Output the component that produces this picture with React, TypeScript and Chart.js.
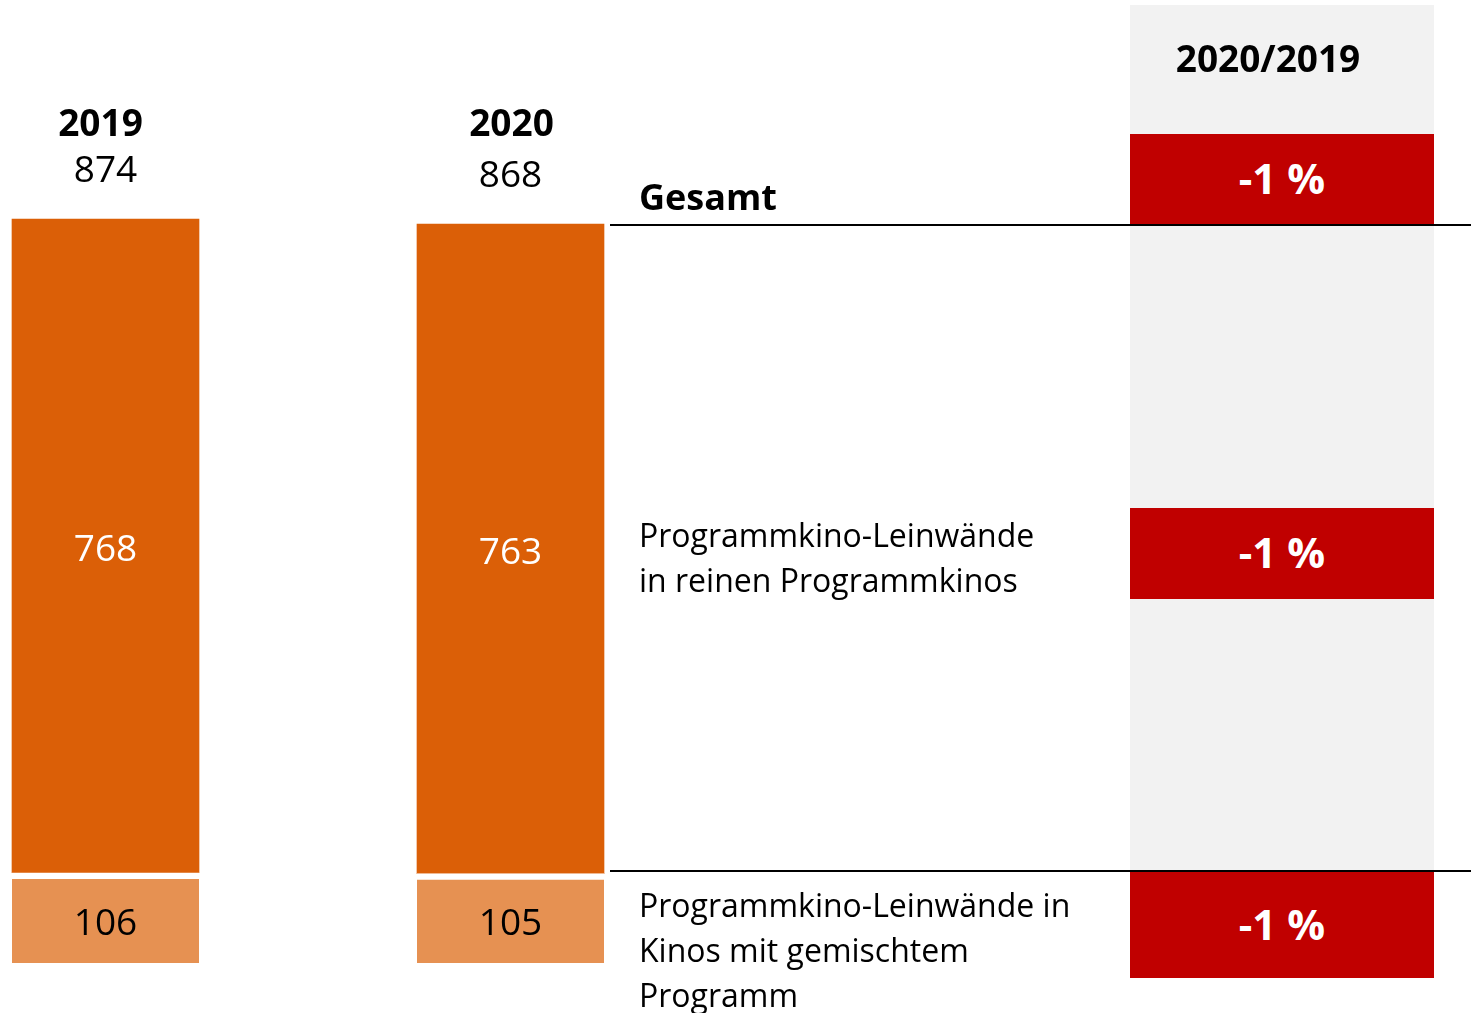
import React, { useEffect, useRef } from "react";
import { Chart, registerables } from "chart.js";

Chart.register(...registerables);

// ---- data ----
const years = ["2019", "2020"];
const mixedScreens = [106, 105]; // Programmkino-Leinwände in Kinos mit gemischtem Programm
const pureScreens = [768, 763]; // Programmkino-Leinwände in reinen Programmkinos
const totals = [874, 868];
const changeHeader = "2020/2019";
const rowLabels = [
  ["Gesamt"],
  ["Programmkino-Leinwände", "in reinen Programmkinos"],
  ["Programmkino-Leinwände in", "Kinos mit gemischtem", "Programm"],
];
const changes = ["-1 %", "-1 %", "-1 %"];

const DARK = "#DB5F07";
const LIGHT = "#E69152";
const RED = "#C00000";
const GRAY = "#F2F2F2";
const FONT = "'Open Sans', 'Noto Sans', sans-serif";
const GAP = 6.5;

const labelPlugin = {
  id: "barLabels",
  afterDatasetsDraw(chart: any) {
    const ctx = chart.ctx;
    ctx.save();
    ctx.textAlign = "center";
    ctx.textBaseline = "middle";
    chart.data.datasets.forEach((ds: any, di: number) => {
      const meta = chart.getDatasetMeta(di);
      meta.data.forEach((el: any, i: number) => {
        const top = di === 0 ? el.y + GAP : el.y;
        const cy = (top + el.base) / 2;
        ctx.fillStyle = di === 0 ? "#000" : "#fff";
        ctx.font = `37px ${FONT}`;
        ctx.fillText(String(ds.data[i]), el.x, cy + (di === 0 ? 3 : 5));
      });
    });
    // header labels: year and total above each bar
    const topMeta = chart.getDatasetMeta(1);
    topMeta.data.forEach((el: any, i: number) => {
      ctx.fillStyle = "#000";
      ctx.font = `bold 37px ${FONT}`;
      ctx.fillText(years[i], el.x - (i === 0 ? 5 : -1), chart.chartArea.top - 94);
      ctx.font = `37px ${FONT}`;
      ctx.fillText(String(totals[i]), el.x, el.y - 48);
    });
    ctx.restore();
  },
};

export default function App() {
  const ref = useRef<HTMLCanvasElement>(null);
  useEffect(() => {
    if (!ref.current) return;
    const chart = new Chart(ref.current, {
      type: "bar",
      data: {
        labels: years,
        datasets: [
          {
            label: "Programmkino-Leinwände in Kinos mit gemischtem Programm",
            data: mixedScreens,
            backgroundColor: LIGHT,
            borderColor: "#ffffff",
            borderWidth: { top: GAP, right: 0, bottom: 0, left: 0 },
            borderSkipped: false,
            barThickness: 187,
            clip: false as any,
          },
          {
            label: "Programmkino-Leinwände in reinen Programmkinos",
            data: pureScreens,
            backgroundColor: DARK,
            borderWidth: 0,
            barThickness: 187,
            clip: false as any,
          },
        ],
      },
      options: {
        responsive: false,
        animation: false,
        layout: { padding: { left: 105.5, right: 1471 - 510.5, top: 219, bottom: 1013 - 963 } },
        plugins: { legend: { display: false }, tooltip: { enabled: false } },
        scales: {
          x: { display: false, stacked: true, offset: false },
          y: { display: false, stacked: true, min: 0, max: 874 },
        },
      },
      plugins: [labelPlugin],
    });
    return () => chart.destroy();
  }, []);

  const abs = (s: React.CSSProperties): React.CSSProperties => ({ position: "absolute", ...s });
  const boxes = [
    { top: 134, height: 90 },
    { top: 508, height: 91 },
    { top: 872, height: 106 },
  ];
  const textTops = [177, 512, 882];

  return (
    <div style={abs({ left: 0, top: 0, width: 1471, height: 1013, background: "#fff", overflow: "hidden", fontFamily: FONT })}>
      <div style={abs({ left: 1130, top: 5, width: 304, height: 866, background: GRAY })} />
      <canvas ref={ref} width={1471} height={1013} style={abs({ left: 0, top: 0 })} />
      <div style={abs({ left: 610, top: 224, width: 861, height: 2, background: "#000" })} />
      <div style={abs({ left: 610, top: 870, width: 861, height: 2, background: "#000" })} />
      <div style={abs({ left: 1130, top: 38, width: 304, textAlign: "center", fontSize: 37, fontWeight: 700, lineHeight: "40px", color: "#000" })}>
        <span style={{ position: "relative", left: -14 }}>{changeHeader}</span>
      </div>
      {boxes.map((b, i) => (
        <div key={i} style={abs({ left: 1130, top: b.top, width: 304, height: b.height, background: RED, color: "#fff", fontWeight: 700, fontSize: 42, display: "flex", alignItems: "center", justifyContent: "center" })}>
          <span style={{ position: "relative", top: -2 }}>{changes[i]}</span>
        </div>
      ))}
      {rowLabels.map((lines, i) => (
        <div key={i} style={abs({ left: 639, top: textTops[i], fontSize: i === 0 ? 36 : 32, fontWeight: i === 0 ? 700 : 400, lineHeight: i === 0 ? "40px" : "45px", color: "#000", whiteSpace: "nowrap" })}>
          {lines.map((l, j) => (
            <div key={j}>{l}</div>
          ))}
        </div>
      ))}
    </div>
  );
}
